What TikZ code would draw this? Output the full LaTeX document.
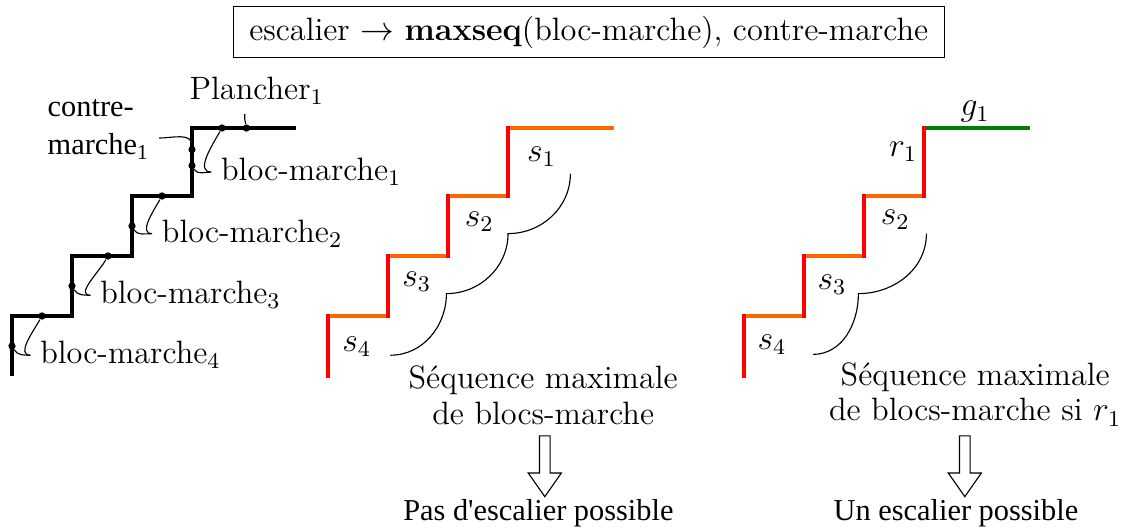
\documentclass[tikz,border=0pt]{standalone}
\usepackage{fontspec}
\newfontfamily\timesfont{Liberation Serif}
\usetikzlibrary{shapes.arrows}
\definecolor{orangegiron}{RGB}{255,102,0}
\definecolor{vertpalier}{RGB}{0,128,0}
\begin{document}
\begin{tikzpicture}[font=\fontsize{11.5}{12.6}\selectfont,
        escalier/.style={line width=1.6pt},
        contre/.style={red,line width=1.3pt,line cap=rect},
        giron/.style={orangegiron,line width=1.3pt,line cap=rect},
        palier/.style={vertpalier,line width=1.3pt,line cap=rect},
        pointnoir/.style={circle,fill,inner sep=0pt,minimum size=2.6pt},
        tms/.style={font=\timesfont\fontsize{10.8}{13.6}\selectfont},
        grossefleche/.style={single arrow,draw,rotate=-90,minimum height=0.76cm,
            minimum width=0.4cm,inner xsep=0pt,inner ysep=0.06cm,
            single arrow head extend=0.14cm,single arrow tip angle=70}]
        \useasboundingbox (-0.15,-1.925) rectangle (13.95,4.7);
        % titre
        \node[draw,minimum width=8.89cm,minimum height=0.5cm] (titre) at (7.21,4.3)
            {escalier $\rightarrow$ \textbf{maxseq}(bloc-marche), contre-marche};
        % escalier de gauche (noir)
        \draw[escalier] (0,0) -- (0,0.75) -- (0.75,0.75) -- (0.75,1.5) -- (1.5,1.5)
            -- (1.5,2.25) -- (2.25,2.25) -- (2.25,3.1) -- (3.55,3.1);
        % points de jonction
        \node[pointnoir] (dr4) at (0,0.375) {};
        \node[pointnoir] (dt4) at (0.375,0.75) {};
        \node[pointnoir] (dr3) at (0.75,1.125) {};
        \node[pointnoir] (dt3) at (1.2,1.5) {};
        \node[pointnoir] (dr2) at (1.5,1.875) {};
        \node[pointnoir] (dt2) at (1.875,2.25) {};
        \node[pointnoir] (dr1) at (2.25,2.63) {};
        \node[pointnoir] (dt1) at (2.625,3.1) {};
        \node[pointnoir] (dc1) at (2.25,2.83) {};
        \node[pointnoir] (dp1) at (2.93,3.1) {};
        % etiquettes
        \node[anchor=west] (bm4) at (0.23,0.26) {bloc-marche$_4$};
        \node[anchor=west] (bm3) at (0.98,1.01) {bloc-marche$_3$};
        \node[anchor=west] (bm2) at (1.75,1.78) {bloc-marche$_2$};
        \node[anchor=west] (bm1) at (2.49,2.55) {bloc-marche$_1$};
        \node[tms,align=left] (cm1) at (1.08,3.08) {contre-\\marche\textsubscript{1}};
        \node (pl1) at (3.06,3.57) {Plancher$_1$};
        \draw (dr4) to[out=-60,in=180] (bm4.west);
        \draw (dt4) to[out=240,in=180] (bm4.west);
        \draw (dr3) to[out=-60,in=180] (bm3.west);
        \draw (dt3) to[out=240,in=180] (bm3.west);
        \draw (dr2) to[out=-60,in=180] (bm2.west);
        \draw (dt2) to[out=240,in=180] (bm2.west);
        \draw (dr1) to[out=-60,in=180] (bm1.west);
        \draw (dt1) to[out=240,in=180] (bm1.west);
        \draw ([yshift=-3pt]cm1.east) to[out=0,in=90] (dc1);
        \draw (dp1) to[out=100,in=-100] ([xshift=-0.15cm]pl1.south);
        % escalier du milieu
        \draw[giron] (3.95,0.75) -- (4.7,0.75);
        \draw[giron] (4.7,1.5) -- (5.45,1.5);
        \draw[giron] (5.45,2.25) -- (6.2,2.25);
        \draw[giron] (6.2,3.1) -- (7.5,3.1);
        \draw[contre] (3.95,0) -- (3.95,0.75);
        \draw[contre] (4.7,0.75) -- (4.7,1.5);
        \draw[contre] (5.45,1.5) -- (5.45,2.25);
        \draw[contre] (6.2,2.25) -- (6.2,3.1);
        \node (s1a) at (6.62,2.74) {$s_1$};
        \node (s2a) at (5.84,1.93) {$s_2$};
        \node (s3a) at (5.06,1.18) {$s_3$};
        \node (s4a) at (4.31,0.37) {$s_4$};
        \draw (6.98,2.53) to[out=-90,in=0] (6.2,1.78) to[out=-90,in=0] (5.43,1.03)
            to[out=-90,in=0] (4.73,0.26);
        \node[align=center] (seq1) at (6.64,-0.24) {Séquence maximale\\de blocs-marche};
        \node[grossefleche] (f1) at (6.66,-1.08) {};
        \node[tms] (res1) at (6.58,-1.71) {Pas d\textquotesingle escalier possible};
        % escalier de droite
        \draw[giron] (9.15,0.75) -- (9.9,0.75);
        \draw[giron] (9.9,1.5) -- (10.65,1.5);
        \draw[giron] (10.65,2.25) -- (11.4,2.25);
        \draw[palier] (11.4,3.1) -- (12.7,3.1);
        \draw[contre] (9.15,0) -- (9.15,0.75);
        \draw[contre] (9.9,0.75) -- (9.9,1.5);
        \draw[contre] (10.65,1.5) -- (10.65,2.25);
        \draw[contre] (11.4,2.25) -- (11.4,3.1);
        \node (g1) at (12.04,3.3) {$g_1$};
        \node (r1) at (11.14,2.8) {$r_1$};
        \node (s2b) at (11.04,1.95) {$s_2$};
        \node (s3b) at (10.25,1.14) {$s_3$};
        \node (s4b) at (9.5,0.39) {$s_4$};
        \draw (11.43,1.78) to[out=-90,in=0] (10.58,1.03) to[out=-90,in=0] (10.01,0.27);
        \node[align=center] (seq2) at (12.04,-0.23) {Séquence maximale\\de blocs-marche si $r_1$};
        \node[grossefleche] (f2) at (11.91,-1.08) {};
        \node[tms] (res2) at (11.8,-1.71) {Un escalier possible};
    \end{tikzpicture}
\end{document}
